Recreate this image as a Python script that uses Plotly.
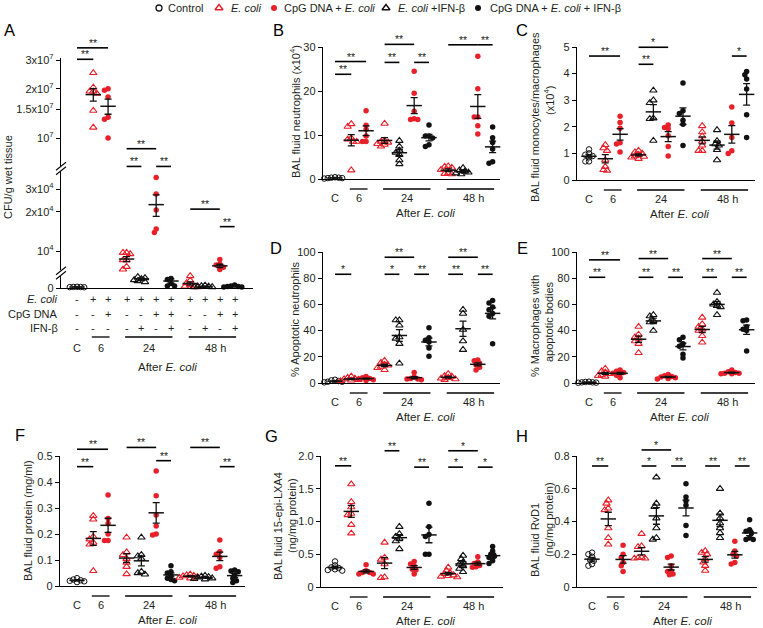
import numpy as np
import plotly.graph_objects as go

W, H = 763, 628
UNIT = 14.8          # pixels between neighbouring columns
RED = "#e8202a"
INK = "#111111"
TXT = "#231f20"
FONT = "Liberation Sans, Arial, Helvetica, sans-serif"

# ---------------- data ----------------
group_names = ["Control", "E. coli", "CpG DNA + E. coli", "E. coli +IFN-β", "CpG DNA + E. coli + IFN-β"]
legend_labels = ["Control", "<i>E. coli</i>", "CpG DNA + <i>E. coli</i>",
                 "<i>E. coli</i> +IFN-β", "CpG DNA + <i>E. coli</i> + IFN-β"]
column_groups = [0, 1, 2, 1, 3, 2, 4, 1, 3, 2, 4]
column_times = ["C", "6", "6", "24", "24", "24", "24", "48", "48", "48", "48"]
time_labels = ["C", "6", "24", "48 h"]

# A: CFU/g wet tissue
cfu_A = [
    [200, 150, 250, 180, 220],
    [2.5e7, 2.04e7, 1.93e7, 1.93e7, 1.87e7, 1.47e7, 1.16e7],
    [2.0e7, 1.96e7, 1.78e7, 1.34e7, 1.30e7, 1.0e7],
    [9700, 9700, 9480, 8520, 8520, 7570, 7230],
    [2600, 2200, 2000, 1800, 1600, 1400, 1200],
    [36800, 27500, 20700, 14800, 13900],
    [3100, 1900, 1700, 900, 400, 400],
    [2400, 1500, 1000, 600, 300, 300, 200],
    [500, 400, 300, 300, 200, 200],
    [8600, 7900, 7800, 7500, 7200, 7100],
    [600, 400, 300, 300, 200, 200],
]
# B: BAL fluid neutrophils (x10^4)
neutrophils_B = [
    [0.2, 0.3, 0.1, 0.4, 0.2, 0.3],
    [12.5, 11.9, 9.3, 9.0, 8.5, 8.5, 2.0],
    [15.5, 12.2, 11.3, 9.8, 8.5, 8.5],
    [12.6, 8.7, 8.5, 8.3, 8.0, 7.8, 7.4],
    [8.7, 7.4, 6.5, 6.0, 5.5, 4.3, 3.4],
    [24.5, 19.5, 15.4, 13.7, 13.5, 13.5],
    [12.3, 9.8, 9.8, 9.3, 7.8, 7.4],
    [2.9, 2.8, 2.6, 2.1, 1.3, 1.2, 1.1],
    [2.5, 2.0, 1.7, 1.5, 1.3, 1.1],
    [27.9, 20.5, 14.1, 14.1, 12.1, 10.2],
    [11.8, 9.4, 8.3, 6.8, 3.9, 3.6],
]
# C: BAL fluid monocytes/macrophages (x10^4)
monocytes_C = [
    [1.15, 1.0, 0.95, 0.9, 0.85, 0.7, 0.7],
    [1.32, 1.2, 1.1, 0.75, 0.5, 0.38, 0.35],
    [2.4, 2.16, 1.95, 1.4, 1.35, 1.05],
    [1.1, 1.05, 1.0, 0.95, 0.9, 0.88, 0.85, 0.8],
    [3.37, 3.0, 2.9, 2.32, 2.3, 1.48],
    [2.07, 1.97, 1.93, 1.66, 1.26, 0.9],
    [3.65, 2.6, 2.5, 2.25, 2.1, 1.3],
    [2.03, 1.8, 1.65, 1.45, 1.3, 1.1, 1.1],
    [1.88, 1.47, 1.35, 1.3, 1.13, 0.75],
    [2.74, 2.14, 1.6, 1.1, 1.0],
    [4.08, 3.96, 3.8, 3.42, 2.45, 1.6],
]
# D: % apoptotic neutrophils
apoptotic_D = [
    [2.5, 2.0, 1.5, 1.0, 1.0, 0.5],
    [5, 4, 3.5, 3, 2.5, 2, 1.5],
    [5, 4, 3.5, 3, 2.5, 2],
    [17, 15.5, 14, 13.5, 12.5, 11.5, 10],
    [48, 48, 44, 35, 34, 30, 15],
    [8, 4.5, 3.5, 3, 3, 2.5],
    [42.2, 34.6, 32.6, 31.3, 26.7, 20.4],
    [7, 5.5, 5, 4, 3.5, 3, 2.5],
    [56, 53, 40.7, 32, 25.4],
    [17.5, 17, 15, 14, 12, 10],
    [63, 61, 58, 56, 53, 51, 30],
]
# E: % macrophages with apoptotic bodies
efferocytosis_E = [
    [1.0, 0.8, 0.5, 0.5, 0.3, 0.2],
    [11, 9, 8, 7, 6, 5.5, 5],
    [10, 9, 8, 7.5, 7, 6, 4],
    [43, 37, 35, 34, 32, 30, 23],
    [52, 51, 47.5, 46.5, 40],
    [6.5, 5.5, 5, 4.5, 4, 3.5, 3],
    [35, 33, 30, 28, 22, 19],
    [50, 45, 43, 41, 40, 36, 31],
    [69, 62, 60, 59, 58, 52],
    [10, 8.5, 8, 7.5, 7.5, 7, 7],
    [48, 47.5, 43, 41, 40, 24.5],
]
# F: BAL fluid protein (mg/ml)
protein_F = [
    [0.03, 0.025, 0.022, 0.02, 0.018, 0.015],
    [0.27, 0.256, 0.19, 0.18, 0.167, 0.16, 0.058],
    [0.35, 0.26, 0.24, 0.2, 0.175, 0.175],
    [0.187, 0.13, 0.12, 0.105, 0.09, 0.074, 0.046],
    [0.187, 0.12, 0.115, 0.105, 0.055, 0.05, 0.045],
    [0.442, 0.347, 0.273, 0.231, 0.2, 0.196],
    [0.078, 0.055, 0.05, 0.04, 0.03, 0.025, 0.02],
    [0.045, 0.042, 0.04, 0.038, 0.035, 0.032, 0.03],
    [0.04, 0.037, 0.035, 0.033, 0.03, 0.028, 0.026],
    [0.177, 0.132, 0.122, 0.11, 0.074, 0.068],
    [0.062, 0.058, 0.055, 0.042, 0.03, 0.02, 0.013],
]
# G: BAL fluid 15-epi-LXA4 (ng/mg protein)
lxa4_G = [
    [0.39, 0.33, 0.3, 0.29, 0.27, 0.26, 0.25],
    [1.57, 1.3, 1.22, 1.12, 1.1, 0.95, 0.82],
    [0.34, 0.25, 0.22, 0.22, 0.2, 0.2],
    [0.68, 0.45, 0.42, 0.35, 0.15, 0.14],
    [0.92, 0.81, 0.77, 0.74, 0.7, 0.58],
    [0.39, 0.35, 0.32, 0.27, 0.26, 0.2],
    [1.28, 0.92, 0.8, 0.77, 0.5, 0.5],
    [0.3, 0.25, 0.22, 0.2, 0.18, 0.17, 0.16, 0.15],
    [0.48, 0.43, 0.38, 0.35, 0.32, 0.28, 0.23],
    [0.46, 0.38, 0.36, 0.33, 0.31, 0.3],
    [0.62, 0.55, 0.5, 0.47, 0.45, 0.4, 0.36],
]
# H: BAL fluid RvD1 (ng/mg protein)
rvd1_H = [
    [0.21, 0.2, 0.185, 0.165, 0.16, 0.14, 0.13],
    [0.53, 0.51, 0.48, 0.47, 0.36, 0.3, 0.26],
    [0.255, 0.2, 0.18, 0.15, 0.13, 0.095],
    [0.325, 0.25, 0.245, 0.18, 0.178, 0.175, 0.175],
    [0.67, 0.51, 0.49, 0.42, 0.36, 0.3, 0.29],
    [0.19, 0.18, 0.13, 0.1, 0.095, 0.08, 0.075],
    [0.63, 0.55, 0.525, 0.5, 0.375, 0.315],
    [0.22, 0.21, 0.2, 0.17, 0.15, 0.13, 0.1],
    [0.6, 0.45, 0.42, 0.39, 0.36, 0.33, 0.3],
    [0.28, 0.22, 0.2, 0.19, 0.15, 0.14],
    [0.41, 0.35, 0.34, 0.33, 0.3, 0.29, 0.29],
]

# significance: (first column, second column, bar level in data units, label)
sig_A = [(0, 2, 3.56e7, "**", "top"), (0, 1, 3.03e7, "**", "top"), (3, 5, 8.6e6, "**", "top"),
         (3, 4, 6.7e6, "**", "top"), (5, 6, 6.7e6, "**", "top"),
         (7, 9, 21000, "**", "mid"), (9, 10, 15400, "**", "mid")]
sig_B = [(0, 2, 26.7, "**"), (0, 1, 23.8, "**"), (3, 5, 30.6, "**"), (3, 4, 26.5, "**"),
         (5, 6, 26.5, "**"), (7, 9, 30.5, "**"), (9, 10, 30.5, "**")]
sig_C = [(0, 2, 4.66, "**"), (3, 5, 4.99, "*"), (3, 4, 4.35, "**"), (9, 10, 4.66, "*")]
sig_D = [(0, 1, 83, "*"), (3, 5, 96, "**"), (3, 4, 83, "*"), (5, 6, 83, "**"),
         (7, 9, 96, "**"), (7, 8, 83, "**"), (9, 10, 83, "**")]
sig_E = [(0, 2, 94, "**"), (0, 1, 80.7, "**"), (3, 5, 95, "**"), (3, 4, 80.7, "**"),
         (5, 6, 80.7, "**"), (7, 9, 95, "**"), (7, 8, 80.7, "**"), (9, 10, 80.7, "**")]
sig_F = [(0, 2, 0.526, "**"), (0, 1, 0.459, "**"), (3, 5, 0.533, "**"), (5, 6, 0.482, "**"),
         (7, 9, 0.533, "**"), (9, 10, 0.459, "**")]
sig_G = [(0, 1, 1.85, "**"), (3, 4, 2.08, "**"), (5, 6, 1.83, "**"),
         (7, 9, 2.08, "*"), (7, 8, 1.83, "*"), (9, 10, 1.83, "*")]
sig_H = [(0, 1, 0.739, "**"), (3, 5, 0.837, "*"), (3, 4, 0.739, "*"), (5, 6, 0.739, "**"),
         (7, 8, 0.739, "**"), (9, 10, 0.739, "**")]

# ---------------- layout helpers ----------------
time_gap = {"C": 0.0, "6": 0.1, "24": 0.35, "48": 0.65}
col_pos = [i + time_gap[t] for i, t in enumerate(column_times)]
time_spans = [(0, 0), (1, 2), (3, 6), (7, 10)]

STYLE = [
    dict(symbol="circle-open", color=INK, size=5.5, line=dict(width=1, color=INK)),
    dict(symbol="triangle-up-open", color=RED, size=6.5, line=dict(width=1.1, color=RED)),
    dict(symbol="circle", color=RED, size=5.5, line=dict(width=0)),
    dict(symbol="triangle-up-open", color=INK, size=6.5, line=dict(width=1.1, color=INK)),
    dict(symbol="circle", color=INK, size=5.5, line=dict(width=0)),
]


def px(x):
    return x / W


def py(y):
    return 1 - y / H


def axkey(a):
    return a[0] + "axis" + a[1:]


annotations, shapes = [], []


def ann(text, x, y, xref="paper", yref="paper", size=11, xanchor="center", yanchor="middle", **kw):
    d = dict(text=text, x=x, y=y, xref=xref, yref=yref, xanchor=xanchor, yanchor=yanchor,
             showarrow=False, font=dict(family=FONT, size=size, color=kw.pop("color", TXT)))
    d.update(kw)
    annotations.append(d)


def swarm(ypx, dmin=3.6, step=1.8):
    ypx = np.asarray(ypx, float)
    order = np.argsort(ypx)
    cands = [0.0]
    for k in range(1, 12):
        cands += [-k * step, k * step]
    placed, offs = [], np.zeros(len(ypx))
    for i in order:
        for c in cands:
            if all((c - xo) ** 2 + (ypx[i] - yo) ** 2 >= dmin ** 2 for xo, yo in placed):
                offs[i] = c
                placed.append((c, ypx[i]))
                break
    return offs / UNIT


fig = go.Figure()
layout = {}

AXY = dict(showgrid=False, zeroline=False, showline=True, linecolor="black", linewidth=1.2,
           ticks="outside", ticklen=4, tickwidth=1, tickcolor="black",
           tickfont=dict(family=FONT, size=11, color=TXT), fixedrange=True)
AXX = dict(showgrid=False, zeroline=False, showline=True, linecolor="black", linewidth=1.2,
           ticks="", showticklabels=False, fixedrange=True)


def add_points(values, cols, xid, yid, ypx_fn):
    for ci in cols:
        vals = values[ci]
        st = STYLE[column_groups[ci]]
        offs = swarm([ypx_fn(v) for v in vals])
        fig.add_trace(go.Scatter(
            x=[col_pos[ci] + o for o in offs], y=vals, mode="markers", xaxis=xid, yaxis=yid,
            cliponaxis=False, hoverinfo="skip",
            marker=dict(symbol=st["symbol"], color=st["color"], size=st["size"], line=st["line"])))


def add_means(cols, values, xid, yid):
    if not cols:
        return
    means = [float(np.mean(values[c])) for c in cols]
    sems = [float(np.std(values[c], ddof=1) / np.sqrt(len(values[c]))) for c in cols]
    fig.add_trace(go.Scatter(
        x=[col_pos[c] for c in cols], y=means, mode="markers", xaxis=xid, yaxis=yid,
        cliponaxis=False, hoverinfo="skip",
        marker=dict(symbol="line-ew", size=11, color=INK, line=dict(width=1.5, color=INK)),
        error_y=dict(type="data", array=sems, visible=True, color=INK, thickness=1.3, width=3.5)))


def add_sig(sigs, xid, yid, frac_fn):
    for s in sigs:
        a, b, lab = s[0], s[1], s[3]
        f = frac_fn(s)
        shapes.append(dict(type="line", xref=xid, yref=yid + " domain",
                           x0=col_pos[a], x1=col_pos[b], y0=f, y1=f,
                           line=dict(color="black", width=1.6)))
        ann(lab, (col_pos[a] + col_pos[b]) / 2, f, xref=xid, yref=yid + " domain",
            size=10.5, yanchor="bottom", yshift=-3)


def add_time_axis_labels(xid, y_under, y_lab, y_after):
    for k, (a, b) in enumerate(time_spans):
        if a != b:
            shapes.append(dict(type="line", xref=xid, yref="paper",
                               x0=col_pos[a] - 0.1, x1=col_pos[b] + 0.1,
                               y0=py(y_under), y1=py(y_under),
                               line=dict(color="black", width=1.3)))
        ann(time_labels[k], (col_pos[a] + col_pos[b]) / 2, py(y_lab), xref=xid,
            xshift=3 if k == 3 else 0)
    ann("After <i>E. coli</i>", 6.1, py(y_after), xref=xid, size=11.5)


def ytitle(lines, x_centers, y_centers):
    for t, xc, yc in zip(lines, x_centers, y_centers):
        ann(t, px(xc), py(yc), textangle=-90)


def letter(t, x, y):
    ann(t, px(x), py(y), size=16.5, color="black")


# ---------------- simple linear panels ----------------
panels = [
    dict(letter="B", data=neutrophils_B, sig=sig_B, xid="x2", yid="y4", xL=323, xR=500, xC=335,
         yB=179, yT=47, rng=(0, 30), tv=[0, 10, 20, 30], tt=["0", "10", "20", "30"],
         title=["BAL fluid neutrophils (x10<sup>4</sup>)"], tx=[295], ty=[112], lx=278, ly=30),
    dict(letter="C", data=monocytes_C, sig=sig_C, xid="x3", yid="y5", xL=577, xR=755, xC=589,
         yB=180, yT=47, rng=(0, 5), tv=[0, 1, 2, 3, 4, 5], tt=["0", "1", "2", "3", "4", "5"],
         title=["BAL fluid monocytes/macrophages", "(x10<sup>4</sup>)"], tx=[535, 549], ty=[117, 101],
         lx=522, ly=30),
    dict(letter="D", data=apoptotic_D, sig=sig_D, xid="x4", yid="y6", xL=323, xR=500, xC=335,
         yB=383, yT=252, rng=(0, 100), tv=[0, 20, 40, 60, 80, 100],
         tt=["0", "20", "40", "60", "80", "100"],
         title=["% Apoptotic neutrophils"], tx=[295], ty=[320], lx=276, ly=248),
    dict(letter="E", data=efferocytosis_E, sig=sig_E, xid="x5", yid="y7", xL=577, xR=755, xC=589,
         yB=383, yT=252, rng=(0, 100), tv=[0, 20, 40, 60, 80, 100],
         tt=["0", "20", "40", "60", "80", "100"],
         title=["% Macrophages with", "apoptotic bodies"], tx=[535, 549], ty=[326, 322],
         lx=522, ly=248),
    dict(letter="F", data=protein_F, sig=sig_F, xid="x6", yid="y8", xL=60, xR=245, xC=77,
         yB=586, yT=456, rng=(0, 0.5), tv=[0, 0.1, 0.2, 0.3, 0.4, 0.5],
         tt=["0", "0.1", "0.2", "0.3", "0.4", "0.5"],
         title=["BAL fluid protein (mg/ml)"], tx=[28], ty=[521], lx=20, ly=435),
    dict(letter="G", data=lxa4_G, sig=sig_G, xid="x7", yid="y9", xL=321, xR=503, xC=335,
         yB=587, yT=456, rng=(0, 2), tv=[0, 0.5, 1, 1.5, 2], tt=["0", "0.5", "1.0", "1.5", "2.0"],
         title=["BAL fluid 15-epi-LXA4", "(ng/mg protein)"], tx=[278, 292], ty=[526, 516],
         lx=271, ly=436),
    dict(letter="H", data=rvd1_H, sig=sig_H, xid="x8", yid="y10", xL=577, xR=757, xC=592,
         yB=587, yT=456, rng=(0, 0.8), tv=[0, 0.2, 0.4, 0.6, 0.8],
         tt=["0", "0.2", "0.4", "0.6", "0.8"],
         title=["BAL fluid RvD1", "(ng/mg protein)"], tx=[535, 549], ty=[540, 520],
         lx=522, ly=436),
]

for p in panels:
    xr = [(p["xL"] - p["xC"]) / UNIT, (p["xR"] - p["xC"]) / UNIT]
    layout[axkey(p["xid"])] = dict(AXX, domain=[px(p["xL"]), px(p["xR"])], range=xr, anchor=p["yid"])
    layout[axkey(p["yid"])] = dict(AXY, domain=[py(p["yB"]), py(p["yT"])], range=list(p["rng"]),
                                   tickvals=p["tv"], ticktext=p["tt"], anchor=p["xid"])
    r0, r1 = p["rng"]
    hpx = p["yB"] - p["yT"]
    add_points(p["data"], range(11), p["xid"], p["yid"],
               lambda v, r0=r0, r1=r1, hpx=hpx: -(v - r0) / (r1 - r0) * hpx)
    add_means(list(range(11)), p["data"], p["xid"], p["yid"])
    add_sig(p["sig"], p["xid"], p["yid"], lambda s, r0=r0, r1=r1: (s[2] - r0) / (r1 - r0))
    add_time_axis_labels(p["xid"], p["yB"] + 10, p["yB"] + 19, p["yB"] + 34)
    ytitle(p["title"], p["tx"], p["ty"])
    letter(p["letter"], p["lx"], p["ly"])

# ---------------- panel A (broken axis) ----------------
A_xL, A_xR, A_xC = 61, 253, 77
top_ppd = (138 - 60) / np.log10(3)          # px per decade, 1e7 at 138 px, 3e7 at 60 px
mid_ppd = (251 - 189) / np.log10(3)         # 1e4 at 251 px, 3e4 at 189 px
segA = {
    "top": dict(yid="y", yB=166, yT=58, log=True,
                rng=[7 - (166 - 138) / top_ppd, np.log10(3e7) + (60 - 58) / top_ppd],
                tv=[1e7, 1.5e7, 2e7, 3e7],
                tt=["10<sup>7</sup>", "1.5x10<sup>7</sup>", "2x10<sup>7</sup>", "3x10<sup>7</sup>"]),
    "mid": dict(yid="y2", yB=270, yT=171, log=True,
                rng=[4 - (270 - 251) / mid_ppd, 4 + (251 - 171) / mid_ppd],
                tv=[1e4, 2e4, 3e4], tt=["10<sup>4</sup>", "2x10<sup>4</sup>", "3x10<sup>4</sup>"]),
    "bot": dict(yid="y3", yB=288, yT=276, log=False, rng=[0, 2400], tv=[0], tt=["0"]),
}
layout["xaxis"] = dict(AXX, domain=[px(A_xL), px(A_xR)],
                       range=[(A_xL - A_xC) / UNIT, (A_xR - A_xC) / UNIT], anchor="y3")
for name, s in segA.items():
    layout[axkey(s["yid"])] = dict(AXY, domain=[py(s["yB"]), py(s["yT"])], range=s["rng"],
                                   type="log" if s["log"] else "linear",
                                   tickvals=s["tv"], ticktext=s["tt"], anchor="x")


def seg_of(v):
    return "top" if v >= 1e6 else ("mid" if v >= 5000 else "bot")


def seg_frac(s, v):
    f = np.log10(v) if s["log"] else v
    return (f - s["rng"][0]) / (s["rng"][1] - s["rng"][0])


seg_cols = {k: [] for k in segA}
for ci, vals in enumerate(cfu_A):
    seg_cols[seg_of(np.mean(vals))].append(ci)
for sname, cols in seg_cols.items():
    s = segA[sname]
    add_points(cfu_A, cols, "x", s["yid"], lambda v, s=s: -seg_frac(s, v) * (s["yB"] - s["yT"]))
    add_means(cols, cfu_A, "x", s["yid"])
for sg in sig_A:
    s = segA[sg[4]]
    add_sig([sg], "x", s["yid"], lambda t, s=s: seg_frac(s, t[2]))

# axis-break marks
for yc in [(166 + 171) / 2, (270 + 276) / 2]:
    for d in (-2.2, 2.2):
        shapes.append(dict(type="line", xref="paper", yref="paper",
                           x0=px(A_xL - 5), y0=py(yc + d + 4), x1=px(A_xL + 5), y1=py(yc + d - 4),
                           line=dict(color="black", width=1.1)))

# treatment table under A
table_rows = [("<i>E. coli</i>", 299, [g in (1, 2, 3, 4) for g in column_groups]),
              ("CpG DNA", 314, [g in (2, 4) for g in column_groups]),
              ("IFN-β", 328, [g in (3, 4) for g in column_groups])]
for lab, yrow, flags in table_rows:
    ann(lab, px(60), py(yrow), xanchor="right")
    for ci, f in enumerate(flags):
        ann("+" if f else "-", col_pos[ci], py(yrow), xref="x")
add_time_axis_labels("x", 337, 348, 367)
ytitle(["CFU/g wet tissue"], [8], [177])
letter("A", 9, 30)

# ---------------- legend row ----------------
legend_key_px = [159, 219, 274, 386, 478]
legend_text_px = [166, 229, 282, 396, 488]
layout["xaxis9"] = dict(domain=[0, 1], range=[0, W], visible=False, fixedrange=True, anchor="y11")
layout["yaxis11"] = dict(domain=[py(18), 1], range=[18, 0], visible=False, fixedrange=True, anchor="x9")
for g in range(5):
    st = STYLE[g]
    lw = st["line"]["width"]
    fig.add_trace(go.Scatter(x=[legend_key_px[g]], y=[8], mode="markers", xaxis="x9", yaxis="y11",
                             name=group_names[g], cliponaxis=False, hoverinfo="skip",
                             marker=dict(symbol=st["symbol"], color=st["color"], size=st["size"] + 0.5,
                                         line=dict(width=lw + 0.3 if lw else 0, color=st["color"]))))
    ann(legend_labels[g], px(legend_text_px[g]), py(8), xanchor="left")

layout.update(dict(width=W, height=H, margin=dict(l=0, r=0, t=0, b=0, autoexpand=False),
                   paper_bgcolor="white", plot_bgcolor="white", showlegend=False,
                   font=dict(family=FONT, size=11, color=TXT),
                   shapes=shapes, annotations=annotations))
fig.update_layout(**layout)
fig.write_html("out.html", config={"displayModeBar": False, "staticPlot": True},
               post_script="document.body.style.margin='0';document.body.style.overflow='hidden';")
